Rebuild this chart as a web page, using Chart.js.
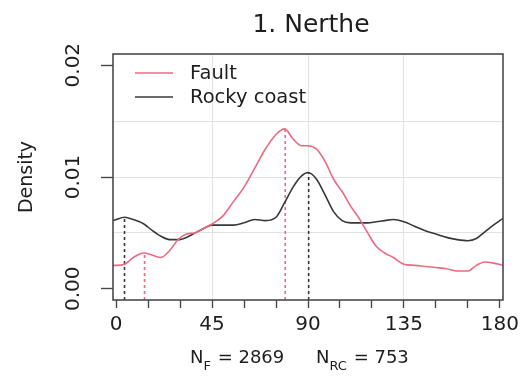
<!DOCTYPE html>
<html>
<head>
<meta charset="utf-8">
<script src="https://cdn.jsdelivr.net/npm/chart.js@4/dist/chart.umd.min.js"></script>
<style>
html,body{margin:0;padding:0;background:#fff;}
#wrap{width:527px;height:376px;}
canvas{display:block;}
</style>
</head>
<body>
<div id="wrap"><canvas id="c" width="527" height="376"></canvas></div>
<script>
// ---- data ----
const chartTitle = '1. Nerthe';
const seriesNames = ['Fault', 'Rocky coast'];
const yAxisTitle = 'Density';

const angles = [-1.5, 0, 4, 8, 13, 17, 21, 25, 29, 33, 37, 41, 45, 50, 55, 60, 65, 70, 75, 79, 83, 87, 90, 94, 98, 102, 106, 110, 114, 118, 122, 126, 130, 135, 140, 145, 150, 155, 160, 165, 169, 173, 177, 181.5];

const faultDensity = [0.0021, 0.0021, 0.0022, 0.0028, 0.0032, 0.0030, 0.0028, 0.0034, 0.0044, 0.0049, 0.0050, 0.0054, 0.0058, 0.0065, 0.0078, 0.0091, 0.0108, 0.0125, 0.0138, 0.0143, 0.0134, 0.0128, 0.0128, 0.0125, 0.0114, 0.0098, 0.0087, 0.0074, 0.0063, 0.0050, 0.0038, 0.0032, 0.0028, 0.0022, 0.0021, 0.0020, 0.0019, 0.0018, 0.0016, 0.0016, 0.0021, 0.0024, 0.0023, 0.0021];

const rockyDensity = [0.0061, 0.0062, 0.0064, 0.0062, 0.0058, 0.0052, 0.0047, 0.0044, 0.0044, 0.0046, 0.0050, 0.0054, 0.0057, 0.0057, 0.0057, 0.0059, 0.0062, 0.0061, 0.0064, 0.0077, 0.0091, 0.0101, 0.0104, 0.0098, 0.0084, 0.0069, 0.0061, 0.0059, 0.0059, 0.0059, 0.0060, 0.0061, 0.0062, 0.0060, 0.0056, 0.0052, 0.0049, 0.0046, 0.0044, 0.0043, 0.0045, 0.0051, 0.0057, 0.0063];

const faultModes = [13.3, 79.3];
const faultModePeaks = [0.0032, 0.0143];
const rockyModes = [3.9, 90.3];
const rockyModePeaks = [0.0064, 0.0104];

const xTicks = [0, 15, 30, 45, 60, 75, 90, 105, 120, 135, 150, 165, 180];
const xLabelTicks = [0, 45, 90, 135, 180];
const xGridTicks = [45, 90, 135];
const yTicks = [0, 0.005, 0.01, 0.015, 0.02];
const yLabelTicks = [0, 0.01, 0.02];
const yGridTicks = [0.005, 0.01, 0.015];

const nFault = 2869;
const nRocky = 753;

// ---- styling ----
const FONT = '"DejaVu Sans", "Liberation Sans", Arial, sans-serif';
const RED = '#ec6a82';
const BLACK = '#383838';
const GRID = '#e2e2e2';
const AXIS = '#4a4a4a';
const TEXT = '#1e1e1e';
const NONE = 'rgba(0,0,0,0)';

const near = (list, v) => list.some(t => Math.abs(t - v) < 1e-9);

function modeDataset(mode, peak, color, yFloor) {
  return {
    data: [{x: mode, y: yFloor}, {x: mode, y: peak}],
    borderColor: color, borderWidth: 1.6, borderDash: [3, 3],
    pointRadius: 0, fill: false, tension: 0
  };
}

const Y_MIN = -0.001, Y_MAX = 0.021;

const datasets = [
  {
    label: seriesNames[0],
    data: angles.map((a, i) => ({x: a, y: faultDensity[i]})),
    borderColor: RED, borderWidth: 1.6, pointRadius: 0, fill: false,
    cubicInterpolationMode: 'monotone'
  },
  {
    label: seriesNames[1],
    data: angles.map((a, i) => ({x: a, y: rockyDensity[i]})),
    borderColor: BLACK, borderWidth: 1.6, pointRadius: 0, fill: false,
    cubicInterpolationMode: 'monotone'
  }
];
faultModes.forEach((m, i) => datasets.push(modeDataset(m, faultModePeaks[i], RED, Y_MIN)));
rockyModes.forEach((m, i) => datasets.push(modeDataset(m, rockyModePeaks[i], BLACK, Y_MIN)));

const decorPlugin = {
  id: 'decor',
  afterDraw(chart) {
    const {ctx, chartArea: ca} = chart;
    ctx.save();
    // plot frame
    ctx.strokeStyle = AXIS;
    ctx.lineWidth = 1.6;
    ctx.strokeRect(ca.left, ca.top, ca.right - ca.left, ca.bottom - ca.top);

    // title
    ctx.fillStyle = TEXT;
    ctx.font = '25px ' + FONT;
    ctx.textAlign = 'center';
    ctx.textBaseline = 'alphabetic';
    ctx.fillText(chartTitle, (ca.left + ca.right) / 2 + 3, 32);

    // legend
    const colors = [RED, BLACK];
    ctx.font = '19.5px ' + FONT;
    ctx.textAlign = 'left';
    ctx.textBaseline = 'middle';
    seriesNames.forEach((name, i) => {
      const y = ca.top + 19 + i * 24;
      ctx.strokeStyle = colors[i];
      ctx.lineWidth = 1.4;
      ctx.beginPath();
      ctx.moveTo(ca.left + 22, y);
      ctx.lineTo(ca.left + 60, y);
      ctx.stroke();
      ctx.fillStyle = TEXT;
      ctx.fillText(name, ca.left + 77, y + 1);
    });

    // sample sizes line
    ctx.textBaseline = 'alphabetic';
    ctx.fillStyle = TEXT;
    const base = 363, subBase = 370;
    const big = '18px ' + FONT, small = '13px ' + FONT;
    function part(x, txt, font, y) {
      ctx.font = font;
      ctx.fillText(txt, x, y);
      return x + ctx.measureText(txt).width;
    }
    let x = 190;
    x = part(x, 'N', big, base);
    x = part(x, 'F', small, subBase);
    x = part(x + 1, ' = ' + nFault, big, base);
    x = 316;
    x = part(x, 'N', big, base);
    x = part(x, 'RC', small, subBase);
    part(x + 1, ' = ' + nRocky, big, base);
    ctx.restore();
  }
};

new Chart(document.getElementById('c').getContext('2d'), {
  type: 'line',
  data: {datasets},
  options: {
    responsive: false,
    animation: false,
    events: [],
    layout: {padding: {left: 0, top: 54, right: 24, bottom: 0}},
    plugins: {legend: {display: false}, title: {display: false}, tooltip: {enabled: false}},
    scales: {
      x: {
        type: 'linear', min: -1.5, max: 181.5,
        afterBuildTicks: s => { s.ticks = xTicks.map(v => ({value: v})); },
        afterFit: s => { s.height = 76; },
        border: {display: false, color: NONE},
        grid: {
          color: c => (c.tick && near(xGridTicks, c.tick.value)) ? GRID : NONE,
          tickColor: c => c.tick ? AXIS : NONE,
          lineWidth: 1, tickWidth: 1.4, tickLength: 8, drawTicks: true
        },
        ticks: {
          autoSkip: false, minRotation: 0, maxRotation: 0, padding: 5,
          color: TEXT, font: {family: FONT, size: 20},
          callback: v => near(xLabelTicks, v) ? String(v) : ''
        }
      },
      y: {
        type: 'linear', min: Y_MIN, max: Y_MAX,
        afterBuildTicks: s => { s.ticks = yTicks.map(v => ({value: v})); },
        afterFit: s => { s.width = 113; },
        border: {display: false, color: NONE},
        grid: {
          color: c => (c.tick && near(yGridTicks, c.tick.value)) ? GRID : NONE,
          tickColor: c => (c.tick && near(yLabelTicks, c.tick.value)) ? AXIS : NONE,
          lineWidth: 1, tickWidth: 1.4, tickLength: 12, drawTicks: true
        },
        ticks: {
          autoSkip: false, minRotation: 90, maxRotation: 90, crossAlign: 'center', padding: 5,
          color: TEXT, font: {family: FONT, size: 20},
          callback: v => near(yLabelTicks, v) ? v.toFixed(2) : ''
        },
        title: {
          display: true, text: yAxisTitle, color: TEXT,
          font: {family: FONT, size: 19}, padding: {top: 16, bottom: 0}
        }
      }
    }
  },
  plugins: [decorPlugin]
});
</script>
</body>
</html>
